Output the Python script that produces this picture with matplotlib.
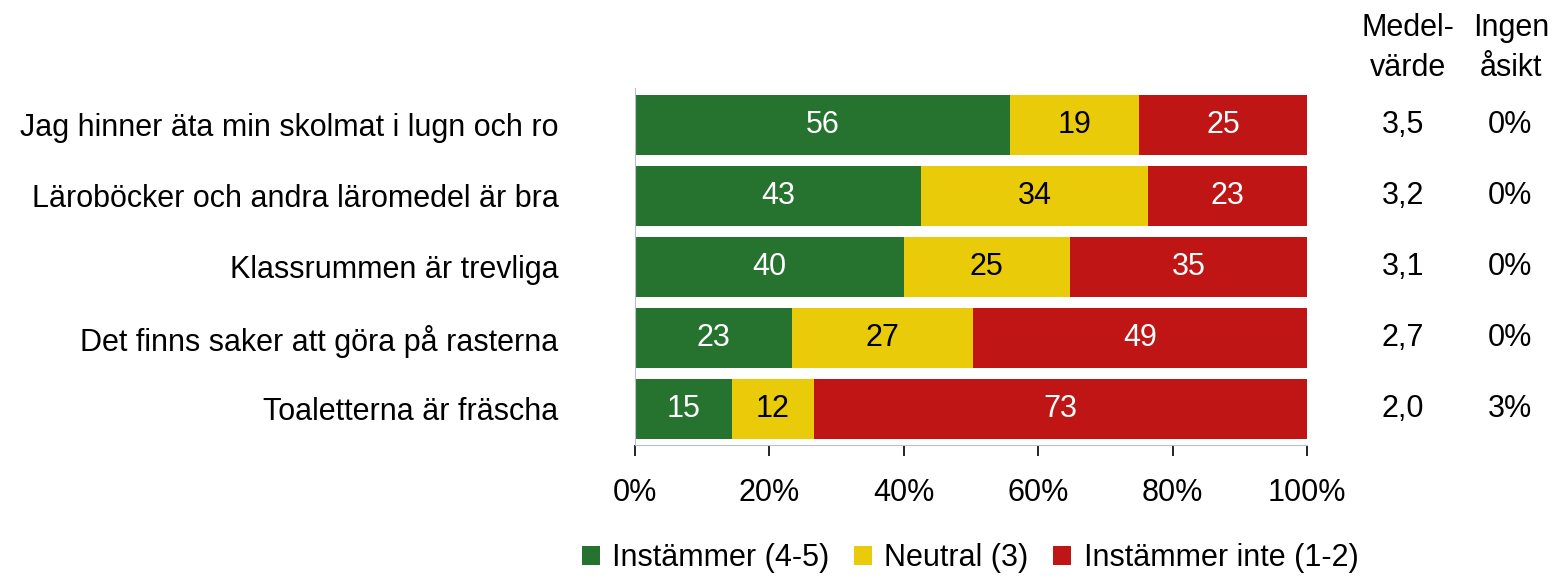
import matplotlib.pyplot as plt
import numpy as np

plt.rcParams['font.family'] = ['Liberation Sans', 'DejaVu Sans']

questions = ["Jag hinner äta min skolmat i lugn och ro",
             "Läroböcker och andra läromedel är bra",
             "Klassrummen är trevliga",
             "Det finns saker att göra på rasterna",
             "Toaletterna är fräscha"]
agree = [55.8, 42.6, 40.0, 23.4, 14.4]
neutral = [19.2, 33.8, 24.7, 26.9, 12.2]
disagree = [25.0, 23.6, 35.3, 49.7, 73.4]
agree_lbl = [56, 43, 40, 23, 15]
neutral_lbl = [19, 34, 25, 27, 12]
disagree_lbl = [25, 23, 35, 49, 73]
medel = ["3,5", "3,2", "3,1", "2,7", "2,0"]
ingen = ["0%", "0%", "0%", "0%", "3%"]

green = '#267330'
yellow = '#EACB0A'
red = '#C01515'
fs = 22

fig = plt.figure(figsize=(15.62, 5.79), dpi=100)
ax = fig.add_axes([635/1562, 1-445/579, 672/1562, 357/579])

y = np.arange(len(questions))
h = 0.845
left = np.zeros(len(questions))
for vals, lbls, col, tcol, name in [(agree, agree_lbl, green, 'white', 'Instämmer (4-5)'),
                                    (neutral, neutral_lbl, yellow, 'black', 'Neutral (3)'),
                                    (disagree, disagree_lbl, red, 'white', 'Instämmer inte (1-2)')]:
    ax.barh(y, vals, left=left, height=h, color=col, label=name)
    for yi, l, v, lb in zip(y, left, vals, lbls):
        ax.text(l + v/2, yi, str(lb), ha='center', va='center', color=tcol, fontsize=fs)
    left = left + np.array(vals)

ax.set_xlim(0, 100)
ax.set_ylim(4.507, -0.52)
ax.set_yticks(y)
ax.set_yticklabels(questions, fontsize=fs)
ax.tick_params(axis='y', length=0, pad=55)
ax.set_xticks([0, 20, 40, 60, 80, 100])
ax.set_xticklabels(["0%", "20%", "40%", "60%", "80%", "100%"], fontsize=fs)
ax.tick_params(axis='x', length=8, width=1.2, pad=16, direction='out')
for s in ['top', 'right']:
    ax.spines[s].set_visible(False)
ax.spines['left'].set_color('#B8C0C8')
ax.spines['bottom'].set_color('#B8C0C8')

# side columns
for yi, m, g in zip(y, medel, ingen):
    ax.text(1.143, yi, m, transform=ax.get_yaxis_transform(), ha='center', va='center', fontsize=fs)
    ax.text(1.302, yi, g, transform=ax.get_yaxis_transform(), ha='center', va='center', fontsize=fs)
fig.text(1408/1562, 1-48/579, "Medel-\nvärde", ha='center', va='center', fontsize=fs, linespacing=1.4)
fig.text(1511/1562, 1-48/579, "Ingen\nåsikt", ha='center', va='center', fontsize=fs, linespacing=1.4)

fig.legend(loc='center', bbox_to_anchor=(0.621, 1-558/579), ncol=3, frameon=False, fontsize=fs,
           handlelength=0.6, handleheight=0.6, handletextpad=0.4, columnspacing=0.8)

fig.savefig('out.png', dpi=100)
